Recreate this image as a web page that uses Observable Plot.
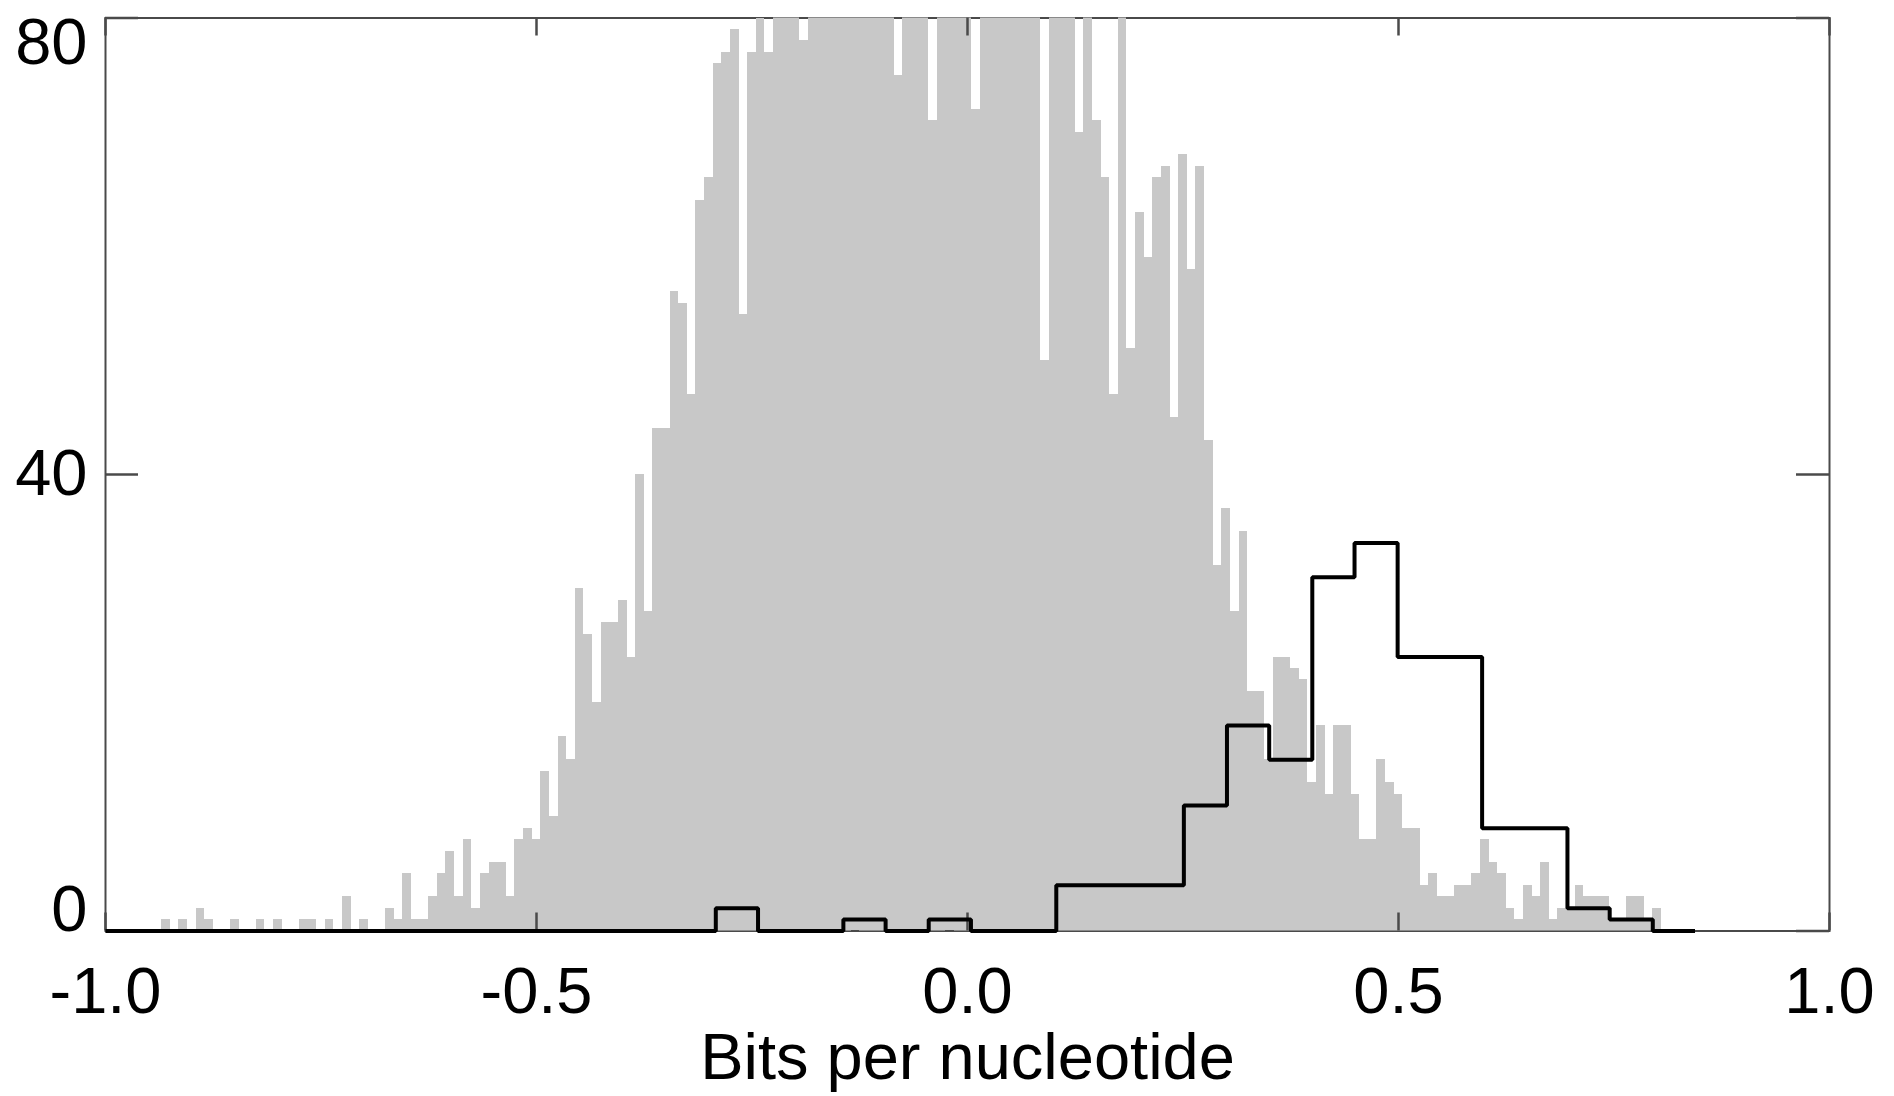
<!DOCTYPE html>
<html>
<head>
<meta charset="utf-8">
<script src="https://cdn.jsdelivr.net/npm/d3@7"></script>
<script src="https://cdn.jsdelivr.net/npm/@observablehq/plot@0.6"></script>
<style>
  html, body { margin: 0; padding: 0; background: #fff; }
  #chart svg { display: block; }
</style>
</head>
<body>
<div id="chart"></div>
<script>
// ---- Data ----
// Grey histogram: bin centres (bin width 0.01) and counts (values above 80 are clipped in the original)
const grayCenters = [
  -0.93, -0.92, -0.91, -0.90, -0.89, -0.88, -0.87, -0.86, -0.85, -0.84,
  -0.83, -0.82, -0.81, -0.80, -0.79, -0.78, -0.77, -0.76, -0.75, -0.74,
  -0.73, -0.72, -0.71, -0.70, -0.69, -0.68, -0.67, -0.66, -0.65, -0.64,
  -0.63, -0.62, -0.61, -0.60, -0.59, -0.58, -0.57, -0.56, -0.55, -0.54,
  -0.53, -0.52, -0.51, -0.50, -0.49, -0.48, -0.47, -0.46, -0.45, -0.44,
  -0.43, -0.42, -0.41, -0.40, -0.39, -0.38, -0.37, -0.36, -0.35, -0.34,
  -0.33, -0.32, -0.31, -0.30, -0.29, -0.28, -0.27, -0.26, -0.25, -0.24,
  -0.23, -0.22, -0.21, -0.20, -0.19, -0.18, -0.17, -0.16, -0.15, -0.14,
  -0.13, -0.12, -0.11, -0.10, -0.09, -0.08, -0.07, -0.06, -0.05, -0.04,
  -0.03, -0.02, -0.01, 0.00, 0.01, 0.02, 0.03, 0.04, 0.05, 0.06,
  0.07, 0.08, 0.09, 0.10, 0.11, 0.12, 0.13, 0.14, 0.15, 0.16,
  0.17, 0.18, 0.19, 0.20, 0.21, 0.22, 0.23, 0.24, 0.25, 0.26,
  0.27, 0.28, 0.29, 0.30, 0.31, 0.32, 0.33, 0.34, 0.35, 0.36,
  0.37, 0.38, 0.39, 0.40, 0.41, 0.42, 0.43, 0.44, 0.45, 0.46,
  0.47, 0.48, 0.49, 0.50, 0.51, 0.52, 0.53, 0.54, 0.55, 0.56,
  0.57, 0.58, 0.59, 0.60, 0.61, 0.62, 0.63, 0.64, 0.65, 0.66,
  0.67, 0.68, 0.69, 0.70, 0.71, 0.72, 0.73, 0.74, 0.75, 0.76,
  0.77, 0.78, 0.79, 0.80
];
const grayCounts = [
  1, 0, 1, 0, 2, 1, 0, 0, 1, 0,
  0, 1, 0, 1, 0, 0, 1, 1, 0, 1,
  0, 3, 0, 1, 0, 0, 2, 1, 5, 1,
  1, 3, 5, 7, 3, 8, 2, 5, 6, 6,
  3, 8, 9, 8, 14, 10, 17, 15, 30, 26,
  20, 27, 27, 29, 24, 40, 28, 44, 44, 56,
  55, 47, 64, 66, 76, 77, 79, 54, 77, 80,
  77, 84, 87, 85, 78, 90, 88, 93, 95, 91,
  97, 94, 99, 96, 98, 75, 100, 97, 101, 71,
  99, 102, 98, 100, 72, 97, 99, 95, 98, 94,
  96, 92, 50, 93, 89, 91, 70, 86, 71, 66,
  47, 83, 51, 63, 59, 66, 67, 45, 68, 58,
  67, 43, 32, 37, 28, 35, 21, 21, 15, 24,
  24, 23, 22, 13, 18, 12, 18, 18, 12, 8,
  8, 15, 13, 12, 9, 9, 4, 5, 3, 3,
  4, 4, 5, 8, 6, 5, 2, 1, 4, 3,
  6, 1, 2, 2, 4, 3, 3, 3, 1, 1,
  3, 3, 1, 2
];
const grayBinWidth = 0.01;

// Black outlined histogram: bin edges and counts per bin
const blackEdges = [
  -1.0, -0.292, -0.243, -0.193, -0.144, -0.095, -0.045, 0.004, 0.054, 0.103,
  0.153, 0.202, 0.251, 0.301, 0.350, 0.400, 0.449, 0.499, 0.548, 0.597,
  0.647, 0.696, 0.745, 0.795, 0.844
];
const blackCounts = [
  0, 2, 0, 0, 1, 0, 1, 0, 0, 4,
  4, 4, 11, 18, 15, 31, 34, 24, 24, 9,
  9, 2, 1, 0
];

const xTicks = [-1.0, -0.5, 0.0, 0.5, 1.0];
const yTicks = [0, 40, 80];
const xLabel = "Bits per nucleotide";

// ---- Build tables ----
const gray = grayCenters.map((c, i) => ({x1: c - grayBinWidth / 2, x2: c + grayBinWidth / 2, y: grayCounts[i]}));
const blackPts = blackEdges.map((e, i) => ({x: e, y: blackCounts[Math.min(i, blackCounts.length - 1)]}));

// ---- Layout (pixels) ----
const W = 1894, H = 1096;
const mL = 105, mR = 65, mT = 17.5, mB = 165.5;
const frameW = W - mL - mR, frameH = H - mT - mB;
const xTickLen = 18, yTickLen = 33;
const axisColor = "#4a4a4a";
const font = "'Liberation Sans', Arial, Helvetica, sans-serif";
const fs = 65;

const yLabel = (v, anchor) => Plot.text([v], {
  y: d => d, frameAnchor: "left", textAnchor: "end", lineAnchor: anchor,
  dx: -18, text: d => String(d), fontSize: fs, fill: "#000"
});

const chart = Plot.plot({
  width: W, height: H,
  marginLeft: mL, marginRight: mR, marginTop: mT, marginBottom: mB,
  x: {domain: [-1, 1], axis: null},
  y: {domain: [0, 80], axis: null},
  style: {fontFamily: font, fontSize: fs + "px", background: "#fff", color: "#000"},
  marks: [
    Plot.frame({stroke: axisColor, strokeWidth: 2}),
    Plot.rectY(gray, {x1: "x1", x2: "x2", y: "y", fill: "#c8c8c8", inset: 0, clip: true, shapeRendering: "crispEdges"}),
    // inward ticks on all four sides
    Plot.ruleX(xTicks, {x: d => d, insetTop: frameH - xTickLen, stroke: axisColor, strokeWidth: 2.5}),
    Plot.ruleX(xTicks, {x: d => d, insetBottom: frameH - xTickLen, stroke: axisColor, strokeWidth: 2.5}),
    Plot.ruleY(yTicks, {y: d => d, insetRight: frameW - yTickLen, stroke: axisColor, strokeWidth: 2.5}),
    Plot.ruleY(yTicks, {y: d => d, insetLeft: frameW - yTickLen, stroke: axisColor, strokeWidth: 2.5}),
    // black step histogram
    Plot.line(blackPts, {x: "x", y: "y", curve: "step-after", stroke: "#000", strokeWidth: 4, strokeLinejoin: "miter", strokeLinecap: "butt"}),
    // tick labels
    Plot.text(xTicks, {x: d => d, frameAnchor: "bottom", lineAnchor: "top", dy: 36, text: d => d.toFixed(1), fontSize: fs, fill: "#000"}),
    yLabel(80, "top"),
    yLabel(40, "middle"),
    yLabel(0, "bottom"),
    // axis title
    Plot.text([xLabel], {frameAnchor: "bottom", lineAnchor: "bottom", dy: 148, text: d => d, fontSize: fs, fill: "#000"})
  ]
});
document.getElementById("chart").appendChild(chart);
</script>
</body>
</html>
